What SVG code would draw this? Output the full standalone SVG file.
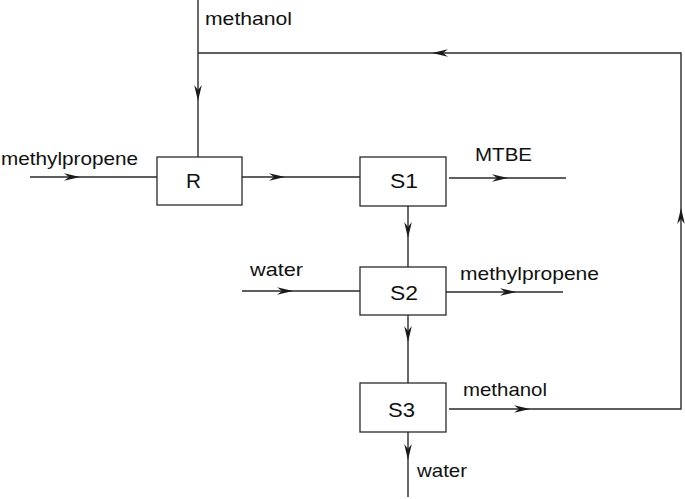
<svg xmlns="http://www.w3.org/2000/svg" xmlns:xlink="http://www.w3.org/1999/xlink" width="685" height="499" viewBox="0 0 685 499">
<style>
.ln{fill:none;stroke:#2a2a2a;stroke-width:1.4}
.bx{fill:#fff;stroke:#2a2a2a;stroke-width:1.3}
.t{font-family:"Liberation Sans",Arial,sans-serif;font-size:18.5px;fill:#111}
.n{font-size:19.5px}
.ah{fill:#1a1a1a}
</style>
<defs>
<path id="ar" class="ah" d="M0,0 L-16,-3.8 L-11,0 L-16,3.8 Z"/>
</defs>
<rect width="685" height="499" fill="#fff"/>
<g id="connectors">
<path class="ln" d="M30,177 H157"/>
<path class="ln" d="M198,0 V157"/>
<path class="ln" d="M198,53 H681 V409 H449"/>
<path class="ln" d="M242,177 H360"/>
<path class="ln" d="M449,178 H566"/>
<path class="ln" d="M408,206 V267"/>
<path class="ln" d="M242,291 H360"/>
<path class="ln" d="M446,292 H563"/>
<path class="ln" d="M408,315 V383"/>
<path class="ln" d="M408,432 V497"/>
<use xlink:href="#ar" transform="translate(80,177)"/>
<use xlink:href="#ar" transform="translate(198,101) rotate(90)"/>
<use xlink:href="#ar" transform="translate(285,177)"/>
<use xlink:href="#ar" transform="translate(432,53) rotate(180)"/>
<use xlink:href="#ar" transform="translate(681,208) rotate(-90)"/>
<use xlink:href="#ar" transform="translate(508,178)"/>
<use xlink:href="#ar" transform="translate(408,238) rotate(90)"/>
<use xlink:href="#ar" transform="translate(293,291)"/>
<use xlink:href="#ar" transform="translate(516,292)"/>
<use xlink:href="#ar" transform="translate(408,342) rotate(90)"/>
<use xlink:href="#ar" transform="translate(530,409)"/>
<use xlink:href="#ar" transform="translate(408,460) rotate(90)"/>
</g>
<g id="node-R">
<rect class="bx" x="157" y="157" width="85" height="48"/>
<text class="t n" x="186" y="188" textLength="15" lengthAdjust="spacingAndGlyphs">R</text>
</g>
<g id="node-S1">
<rect class="bx" x="360" y="157" width="86" height="49"/>
<text class="t n" x="390" y="188" textLength="28" lengthAdjust="spacingAndGlyphs">S1</text>
</g>
<g id="node-S2">
<rect class="bx" x="360" y="267" width="86" height="48"/>
<text class="t n" x="390" y="300" textLength="28" lengthAdjust="spacingAndGlyphs">S2</text>
</g>
<g id="node-S3">
<rect class="bx" x="360" y="383" width="86" height="49"/>
<text class="t n" x="388" y="417" textLength="27" lengthAdjust="spacingAndGlyphs">S3</text>
</g>
<g id="labels">
<text class="t" x="205" y="25" textLength="87" lengthAdjust="spacingAndGlyphs">methanol</text>
<text class="t" x="1" y="165" textLength="137" lengthAdjust="spacingAndGlyphs">methylpropene</text>
<text class="t" x="475" y="161" textLength="57" lengthAdjust="spacingAndGlyphs">MTBE</text>
<text class="t" x="250" y="276" textLength="53" lengthAdjust="spacingAndGlyphs">water</text>
<text class="t" x="460" y="280" textLength="139" lengthAdjust="spacingAndGlyphs">methylpropene</text>
<text class="t" x="463" y="396" textLength="84" lengthAdjust="spacingAndGlyphs">methanol</text>
<text class="t" x="417" y="477" textLength="50" lengthAdjust="spacingAndGlyphs">water</text>
</g>
</svg>
